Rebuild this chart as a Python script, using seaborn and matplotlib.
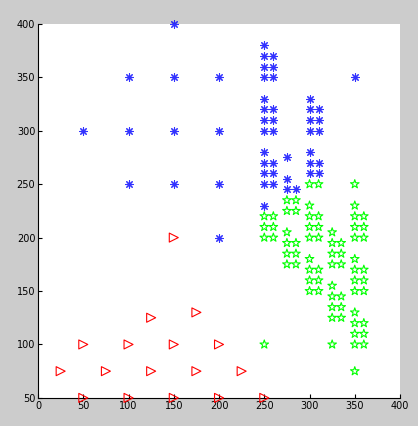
import matplotlib
matplotlib.use("Agg")
import matplotlib.pyplot as plt
import seaborn as sns
import pandas as pd

# Class 1 (blue asterisks)
blue_x = [50, 100, 100, 100, 150, 150, 150, 150, 200, 200, 200, 200,
          250, 250, 250, 250, 250, 250, 250, 250, 250, 250, 250, 250, 250,
          260, 260, 260, 260, 260, 260, 260, 260, 260,
          275, 275, 275, 285,
          300, 300, 300, 300, 300, 300, 300,
          310, 310, 310, 310, 310,
          350]
blue_y = [300, 350, 300, 250, 400, 350, 300, 250, 350, 300, 250, 200,
          380, 370, 360, 350, 330, 320, 310, 300, 280, 270, 260, 250, 230,
          370, 360, 350, 320, 310, 300, 270, 260, 250,
          275, 255, 245, 245,
          330, 320, 310, 300, 280, 270, 260,
          320, 310, 300, 270, 260,
          350]

# Class 2 (green pentagrams)
green_x = [250, 250, 250, 250,
           260, 260, 260,
           275, 275, 275, 275, 275, 275,
           285, 285, 285, 285, 285,
           300, 300, 300, 300, 300, 300, 300, 300, 300,
           310, 310, 310, 310, 310, 310, 310,
           325, 325, 325, 325, 325, 325, 325, 325, 325,
           335, 335, 335, 335, 335, 335,
           350, 350, 350, 350, 350, 350, 350, 350, 350, 350, 350, 350, 350, 350,
           360, 360, 360, 360, 360, 360, 360, 360, 360]
green_y = [220, 210, 200, 100,
           220, 210, 200,
           235, 225, 205, 195, 185, 175,
           235, 225, 195, 185, 175,
           250, 230, 220, 210, 200, 180, 170, 160, 150,
           250, 220, 210, 200, 170, 160, 150,
           205, 195, 185, 175, 155, 145, 135, 125, 100,
           195, 185, 175, 145, 135, 125,
           250, 230, 220, 210, 200, 180, 170, 160, 150, 130, 120, 110, 100, 75,
           220, 210, 200, 170, 160, 150, 120, 110, 100]

# Class 3 (red triangles)
red_x = [25, 50, 50, 75, 100, 100, 125, 125, 150, 150, 150, 175, 175, 200, 200, 225, 250]
red_y = [75, 100, 50, 75, 100, 50, 125, 75, 100, 50, 200, 130, 75, 100, 50, 75, 50]

x_ticks = [0, 50, 100, 150, 200, 250, 300, 350, 400]
y_ticks = [50, 100, 150, 200, 250, 300, 350, 400]

sns.set_style("white")
plt.rcParams['font.family'] = ['DejaVu Sans']

fig = plt.figure(figsize=(4.18, 4.26), dpi=100, facecolor=(0.8, 0.8, 0.8))
ax = fig.add_axes([0.091, 0.066, 0.866, 0.878])
ax.set_facecolor("white")

blue_df = pd.DataFrame({"x": blue_x, "y": blue_y})
green_df = pd.DataFrame({"x": green_x, "y": green_y})
red_df = pd.DataFrame({"x": red_x, "y": red_y})

sns.scatterplot(data=blue_df, x="x", y="y", ax=ax, marker=(8, 2, 0), s=30,
                color="blue", edgecolor="blue", linewidth=0.8, alpha=0.8,
                legend=False, clip_on=False, zorder=3)
sns.scatterplot(data=green_df, x="x", y="y", ax=ax, marker="*", s=42,
                facecolor="none", edgecolor=(0, 1, 0), linewidth=0.8,
                legend=False, clip_on=False, zorder=3)
sns.scatterplot(data=red_df, x="x", y="y", ax=ax, marker=">", s=42,
                facecolor="none", edgecolor="red", linewidth=0.8,
                legend=False, clip_on=False, zorder=3)

ax.set_xlim(0, 400)
ax.set_ylim(50, 400)
ax.set_xticks(x_ticks)
ax.set_yticks(y_ticks)
ax.set_xlabel("")
ax.set_ylabel("")
ax.tick_params(direction="in", length=3, labelsize=7, colors="black",
               top=False, right=False, bottom=True, left=True, pad=2)
ax.spines["top"].set_visible(False)
ax.spines["right"].set_visible(False)
for s in ("left", "bottom"):
    ax.spines[s].set_color("black")
    ax.spines[s].set_linewidth(0.8)

fig.savefig("out.png", dpi=100, facecolor=fig.get_facecolor())
